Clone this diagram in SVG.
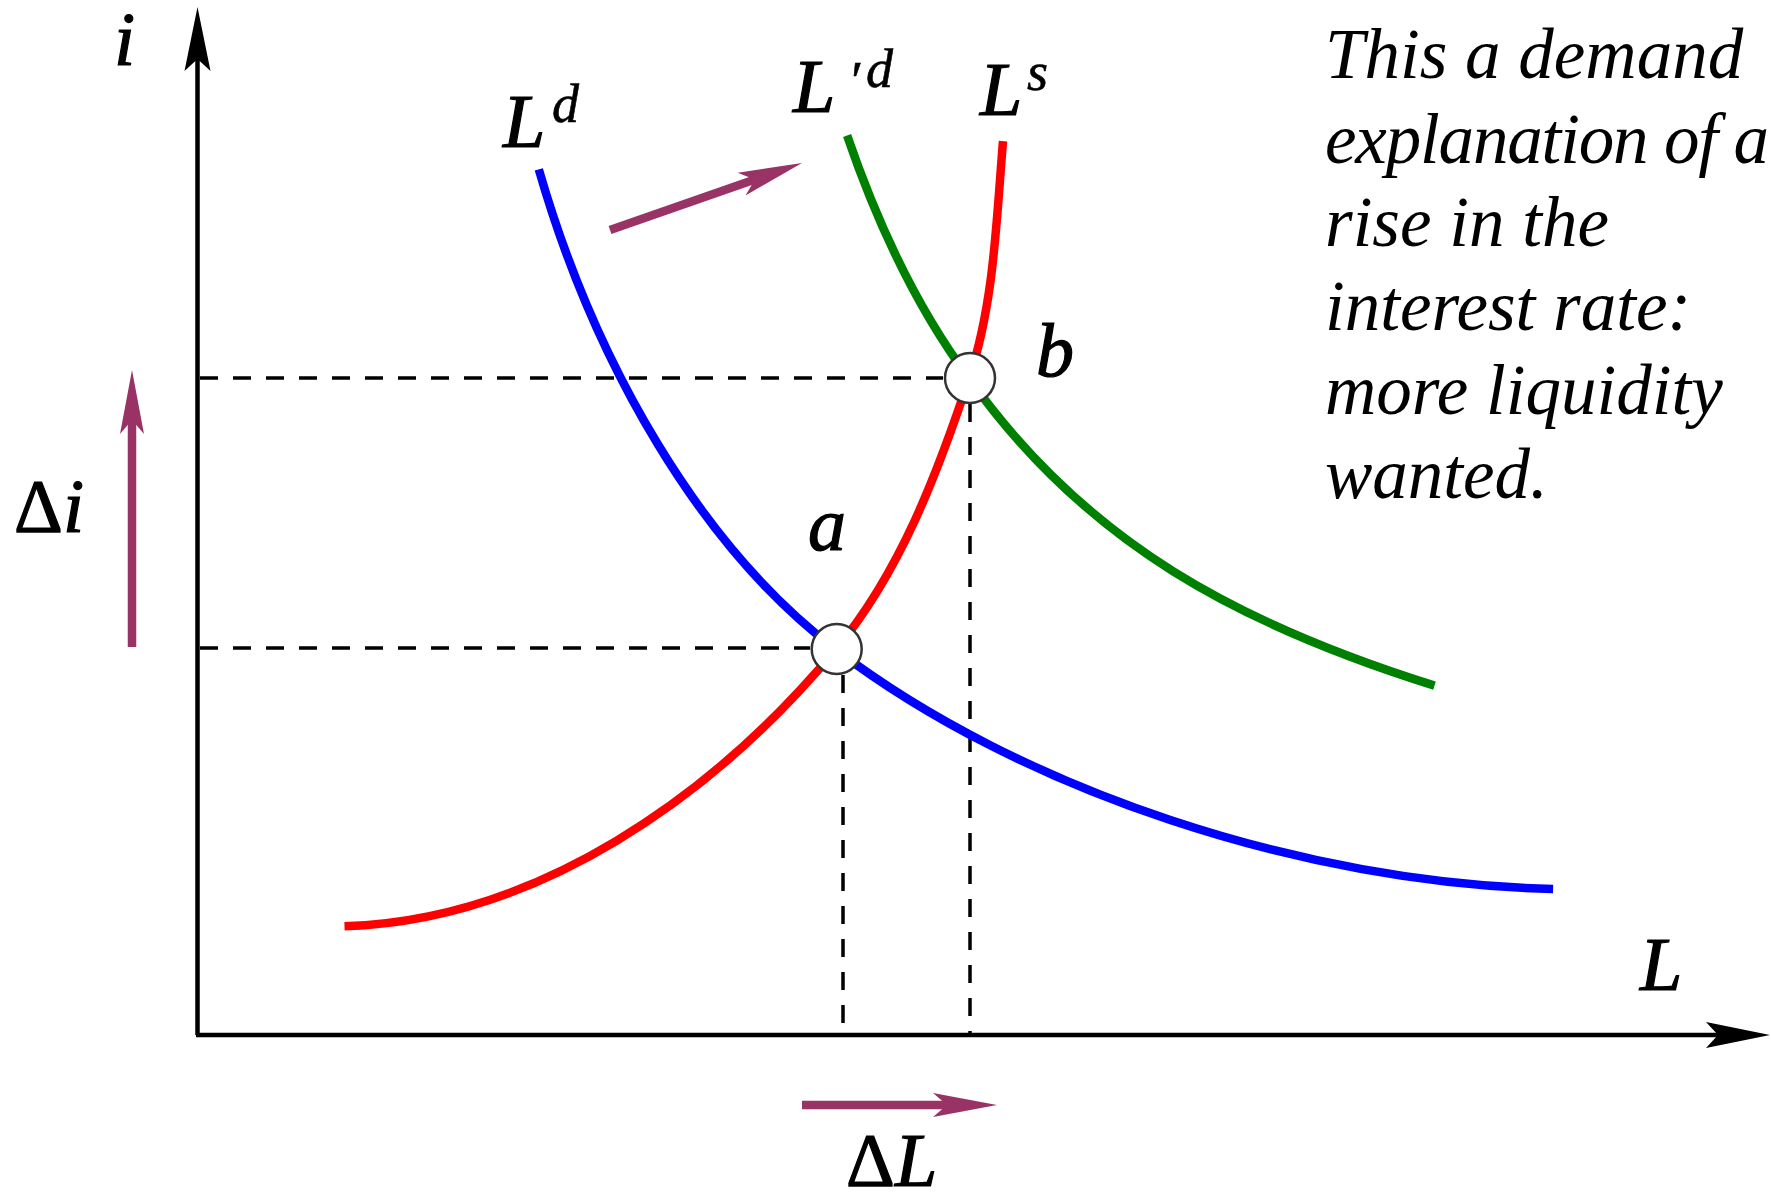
<svg xmlns="http://www.w3.org/2000/svg" width="1771" height="1203" viewBox="0 0 1771 1203">
<style>
.axis{stroke:#000;stroke-width:4.5;fill:none}
.dash{stroke:#000;stroke-width:3.5;stroke-dasharray:18 15;fill:none}
.curve{fill:none;stroke-width:8.5;stroke-linecap:butt}
.shift{stroke:#993366;stroke-width:8.5;fill:none}
.pt{fill:#fff;stroke:#333;stroke-width:2.5}
.lbl{font-family:"Liberation Serif","Times New Roman",serif;font-style:italic;font-size:76px;fill:#000;stroke:#000;stroke-width:1.2}
.sup{font-size:54px;stroke-width:0.6}
.up{font-style:normal}
.note{font-family:"Liberation Serif","Times New Roman",serif;font-style:italic;font-size:71px;fill:#000}
</style>
<defs>
<marker id="ah" markerUnits="userSpaceOnUse" markerWidth="70" markerHeight="32" viewBox="0 -16 70 32" refX="12" refY="0" orient="auto">
<path d="M64,0 L0,-13 L12,0 L0,13 Z" fill="#000"/>
</marker>
<marker id="ph" markerUnits="userSpaceOnUse" markerWidth="70" markerHeight="32" viewBox="0 -16 70 32" refX="14" refY="0" orient="auto">
<path d="M64,0 L0,-12 L14,0 L0,12 Z" fill="#993366"/>
</marker>
</defs>
<rect width="1771" height="1203" fill="#fff"/>

<g id="axes">
<line class="axis" x1="197.5" y1="1035" x2="197.5" y2="59" marker-end="url(#ah)"/>
<line class="axis" x1="196" y1="1035" x2="1718" y2="1035" marker-end="url(#ah)"/>
<text class="lbl" x="114" y="65">i</text>
<text class="lbl" x="1640" y="990">L</text>
</g>

<g id="connectors">
<line class="dash" x1="200" y1="378" x2="943" y2="378"/>
<line class="dash" x1="200" y1="648" x2="810" y2="648"/>
<line class="dash" x1="843" y1="675" x2="843" y2="1033"/>
<line class="dash" x1="970" y1="404" x2="970" y2="1033"/>
<line class="shift" x1="132" y1="647" x2="132" y2="420" marker-end="url(#ph)"/>
<line class="shift" x1="610" y1="230" x2="754.8" y2="179.5" marker-end="url(#ph)"/>
<line class="shift" x1="802" y1="1105" x2="947" y2="1105" marker-end="url(#ph)"/>
</g>

<g id="curve-Ld">
<path class="curve" stroke="#0000ff" d="M538.8,169.4 C595.2,364.8 700.9,547.1 835.8,649.5 C1020,790 1304.5,884 1553.1,888.9"/>
<text class="lbl" x="503" y="147">L<tspan class="sup" x="552" y="122">d</tspan></text>
</g>
<g id="curve-L2d">
<path class="curve" stroke="#008000" d="M847.1,135.5 C877.4,224 916.7,308 969.1,378.4 C1086.9,544.1 1240.4,624.8 1434.5,685.6"/>
<text class="lbl" x="793" y="112">L<tspan class="sup" x="848" y="99">′</tspan><tspan class="sup" x="866" y="87">d</tspan></text>
</g>
<g id="curve-Ls">
<path class="curve" stroke="#ff0000" d="M344.5,926.2 C536.5,920.5 712.9,797.0 835.8,649.5 C900.2,572.2 937.4,473.7 969.1,378.4 C994.1,303.4 996.4,220.0 1003.0,141.2"/>
<text class="lbl" x="980" y="115">L<tspan class="sup" x="1027" y="90">s</tspan></text>
</g>

<g id="point-a">
<circle class="pt" cx="836.7" cy="649" r="25"/>
<text class="lbl" x="808" y="550">a</text>
</g>
<g id="point-b">
<circle class="pt" cx="970" cy="378" r="25"/>
<text class="lbl" x="1036" y="376">b</text>
</g>

<g id="delta-i">
<text class="lbl" x="14" y="532"><tspan class="up">Δ</tspan>i</text>
</g>
<g id="delta-L">
<text class="lbl" x="846" y="1186"><tspan class="up">Δ</tspan>L</text>
</g>

<g id="note">
<text class="note" x="1325" y="78">This a demand</text>
<text class="note" x="1325" y="163" textLength="444" lengthAdjust="spacing">explanation of a</text>
<text class="note" x="1325" y="246">rise in the</text>
<text class="note" x="1325" y="330">interest rate:</text>
<text class="note" x="1325" y="414">more liquidity</text>
<text class="note" x="1325" y="498">wanted.</text>
</g>
</svg>
